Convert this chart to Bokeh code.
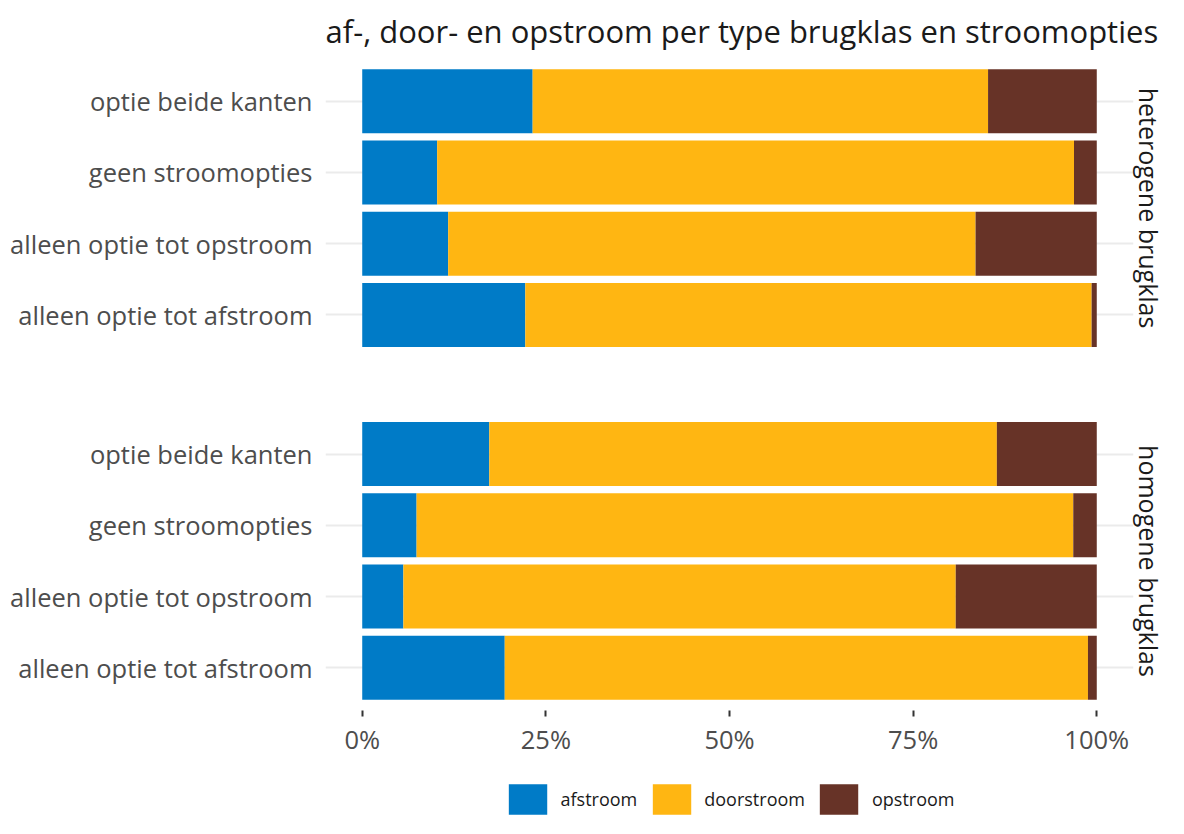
from bokeh.plotting import figure
from bokeh.models import (ColumnDataSource, FactorRange, Range1d, NumeralTickFormatter,
                          FixedTicker, Legend, LegendItem, CategoricalAxis)
from bokeh.layouts import column
from bokeh.embed import file_html
from bokeh.resources import INLINE

categories = ["optie beide kanten", "geen stroomopties",
              "alleen optie tot opstroom", "alleen optie tot afstroom"]
panels = ["heterogene brugklas", "homogene brugklas"]
series = ["afstroom", "doorstroom", "opstroom"]
colors = ["#007BC7", "#FFB612", "#673327"]

het_afstroom = [0.232, 0.102, 0.117, 0.222]
het_doorstroom = [0.620, 0.867, 0.718, 0.771]
het_opstroom = [0.148, 0.031, 0.165, 0.007]

hom_afstroom = [0.173, 0.074, 0.056, 0.194]
hom_doorstroom = [0.691, 0.894, 0.752, 0.794]
hom_opstroom = [0.136, 0.032, 0.192, 0.012]

x_ticks = [0, 0.25, 0.5, 0.75, 1.0]

FONT = "Open Sans"
W = 1168
LEFT = 325
RIGHT = 32

# nested factors, bottom-to-top order for the y range
factors = []
for panel in reversed(panels):
    for cat in reversed(categories):
        factors.append((panel, cat))

src = ColumnDataSource(dict(
    cat=[(panels[0], c) for c in categories] + [(panels[1], c) for c in categories],
    afstroom=het_afstroom + hom_afstroom,
    doorstroom=het_doorstroom + hom_doorstroom,
    opstroom=het_opstroom + hom_opstroom,
))

p = figure(width=W, height=758, output_backend="svg", toolbar_location=None,
           y_range=FactorRange(factors=factors, factor_padding=0.0, group_padding=0.953,
                               range_padding=0.1, range_padding_units="absolute"),
           x_range=Range1d(-0.05, 1.05),
           min_border_left=LEFT, min_border_right=RIGHT,
           min_border_top=58, min_border_bottom=48,
           title="af-, door- en opstroom per type brugklas en stroomopties")
# strip labels: one factor per facet, placed at the facet centres
p.extra_y_ranges = {"strip": FactorRange(factors=list(reversed(panels)), factor_padding=0.18)}

renderers = p.hbar_stack(series, y="cat", height=0.9, color=colors, line_color=None, source=src)

p.title.text_font = FONT
p.title.text_font_size = "31px"
p.title.text_font_style = "normal"
p.title.text_color = "#1A1A1A"
p.title.align = "left"
p.title.standoff = 13

p.outline_line_color = None
p.xgrid.grid_line_color = None
p.ygrid.grid_line_color = "#EBEBEB"
p.ygrid.grid_line_width = 2

ya = p.yaxis[0]
ya.axis_line_color = None
ya.major_tick_line_color = None
ya.major_tick_out = 0
ya.major_tick_in = 0
ya.minor_tick_line_color = None
ya.separator_line_color = None
ya.group_text_font_size = "0px"
ya.group_text_color = None
ya.group_label_orientation = "horizontal"
ya.major_label_text_font = FONT
ya.major_label_text_font_size = "25.5px"
ya.major_label_text_color = "#4D4D4D"
ya.major_label_standoff = 13

ra = CategoricalAxis(y_range_name="strip", axis_line_color=None,
                     major_tick_line_color=None, major_tick_out=0, major_tick_in=0,
                     minor_tick_line_color=None, separator_line_color=None,
                     major_label_orientation="parallel", major_label_standoff=-2,
                     major_label_text_font=FONT, major_label_text_font_size="25px",
                     major_label_text_color="#1A1A1A")
p.add_layout(ra, "right")

xa = p.xaxis[0]
xa.ticker = FixedTicker(ticks=x_ticks)
xa.formatter = NumeralTickFormatter(format="0%")
xa.axis_line_color = None
xa.major_tick_line_color = "#333333"
xa.major_tick_line_width = 2
xa.major_tick_out = 6
xa.major_tick_in = 0
xa.minor_tick_line_color = None
xa.major_label_text_font = FONT
xa.major_label_text_font_size = "25.5px"
xa.major_label_text_color = "#4D4D4D"
xa.major_label_standoff = 5

# legend strip below the chart (hidden copies of the bars act as legend keys)
pl = figure(width=W, height=60, output_backend="svg", toolbar_location=None,
            x_axis_location=None, y_axis_location=None,
            y_range=FactorRange(factors=factors), x_range=Range1d(0, 1),
            min_border_left=LEFT, min_border_right=RIGHT, min_border_top=0, min_border_bottom=0)
pl.outline_line_color = None
pl.xgrid.grid_line_color = None
pl.ygrid.grid_line_color = None
keys = pl.hbar_stack(series, y="cat", height=0.9, color=colors, line_color=None, source=src)
for k in keys:
    k.visible = False
legend = Legend(items=[LegendItem(label=s, renderers=[r]) for s, r in zip(series, keys)],
                orientation="horizontal", location="bottom_center",
                glyph_width=48, glyph_height=38, label_standoff=9, spacing=10,
                label_text_font=FONT, label_text_font_size="18px", label_text_color="#1A1A1A",
                inactive_fill_alpha=0.0,
                border_line_color=None, background_fill_alpha=0, padding=0, margin=0)
pl.add_layout(legend, "center")

layout = column(p, pl, spacing=0)
open("out.html", "w").write(file_html(layout, INLINE))
